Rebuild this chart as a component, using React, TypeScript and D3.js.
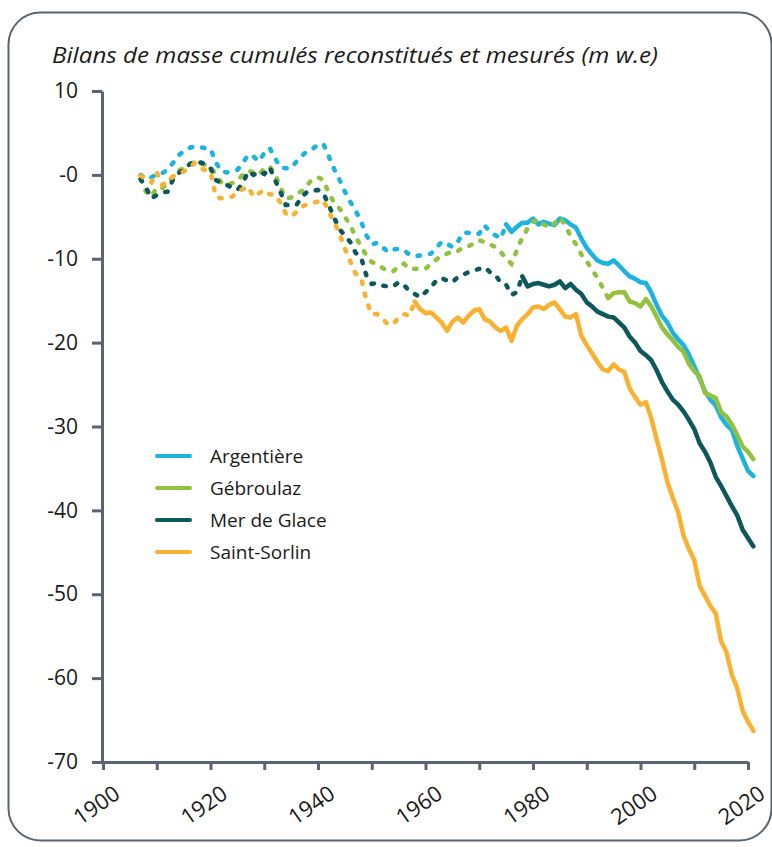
import React, { Component } from 'react';
import * as d3 from 'd3';

// cumulated mass balance (m w.e), one value per year from 1907 to 2021
const firstYear = 1907;
const lastYear = 2021;

const argentiere = [
  0.0, -0.5, -0.3,
  0.1, 0.2, 0.6, 1.4, 2.3, 2.8, 3.2, 3.4, 3.3, 3.2,
  3.1, 1.5, 0.4, 0.3, 0.4, 0.6, 1.4, 2.4, 2.2, 1.6,
  2.6, 3.2, 2.0, 0.9, 0.8, 0.8, 1.6, 2.3, 2.8, 3.1,
  3.6, 3.7, 2.2, 0.7, -0.6, -2.0, -3.2, -4.3, -5.5, -7.2,
  -8.3, -8.1, -8.6, -9.2, -8.9, -8.8, -9.0, -9.5, -9.7, -9.6,
  -9.5, -9.4, -8.7, -8.0, -8.2, -8.6, -8.0, -6.9, -6.9, -7.1,
  -7.0, -6.0, -6.8, -7.2, -7.6, -5.9, -6.8, -6.2, -5.7, -5.7,
  -5.2, -5.9, -5.6, -5.8, -6.0, -5.2, -5.4, -5.9, -6.3, -7.6,
  -8.7, -9.5, -10.2, -10.5, -10.6, -10.2, -10.8, -11.5, -12.1, -12.4,
  -12.8, -12.9, -14.0, -15.5, -16.8, -17.6, -18.8, -19.6, -20.3, -21.4,
  -22.8, -24.3, -25.8, -26.8, -27.5, -28.9, -29.8, -30.4, -32.3, -33.8,
  -35.3, -35.9,
];

const gebroulaz = [
  -0.5, -2.0, -2.6,
  -1.5, -1.6, -1.0, -0.2, 0.5, 0.8, 1.3, 1.5, 1.4, 1.2,
  1.0, 0.0, -0.9, -1.2, -1.0, -0.7, 0.0, 0.5, 0.3, 0.0,
  0.8, 1.0, 0.1, -1.5, -2.8, -2.7, -2.3, -1.9, -1.2, -0.5,
  -0.3, -0.6, -2.2, -3.3, -4.0, -5.0, -6.0, -7.4, -8.5, -9.6,
  -10.4, -10.6, -11.1, -11.4, -11.5, -10.9, -10.6, -11.2, -11.2, -11.2,
  -11.2, -10.6, -10.1, -9.6, -9.4, -9.1, -9.1, -8.6, -8.5, -8.2,
  -7.8, -8.0, -8.3, -8.6, -9.2, -10.0, -10.6, -9.0, -7.5, -6.4,
  -5.6, -5.3, -5.9, -6.3, -5.8, -5.1, -6.0, -7.3, -8.3, -9.5,
  -10.3, -11.3, -12.3, -13.5, -14.7, -14.1, -14.0, -14.0, -15.1, -15.3,
  -15.7, -14.8, -15.7, -16.9, -18.2, -19.0, -19.7, -20.5, -21.1, -22.5,
  -23.4, -24.0, -26.0, -26.3, -26.6, -28.3, -28.8, -29.8, -31.0, -32.4,
  -33.0, -33.9,
];

const merDeGlace = [
  -0.5, -1.5, -2.8,
  -2.4, -2.1, -2.0, -0.6, 0.2, 0.6, 1.2, 1.6, 1.5, 1.3,
  0.8, -0.6, -1.0, -1.2, -1.5, -1.8, -1.0, 0.4, 0.0, 0.4,
  0.1, 0.9, -0.6, -2.0, -3.6, -3.6, -3.6, -2.6, -2.0, -1.9,
  -1.8, -2.2, -3.6, -5.1, -6.5, -7.2, -8.0, -9.3, -9.8, -12.0,
  -13.0, -12.9, -13.2, -13.3, -13.3, -12.8, -13.1, -13.9, -14.2, -14.6,
  -14.0, -13.4, -12.6, -12.3, -12.6, -12.8, -12.2, -11.9, -11.6, -11.4,
  -11.2, -11.0, -11.6, -11.9, -12.9, -13.1, -14.3, -14.0, -12.1, -13.3,
  -13.0, -12.9, -13.1, -13.3, -13.1, -12.7, -13.5, -13.0, -13.7, -14.2,
  -15.2, -15.7, -16.3, -16.6, -16.9, -17.0, -17.6, -18.2, -19.3, -20.0,
  -21.0, -21.5, -22.1, -23.3, -24.7, -25.8, -26.8, -27.4, -28.2, -29.2,
  -30.3, -32.0, -33.0, -34.3, -36.0, -37.1, -38.3, -39.5, -40.6, -42.3,
  -43.3, -44.3,
];

const saintSorlin = [
  -0.1, -0.5, -0.9,
  0.3, -1.2, -0.8, -0.2, 0.2, 0.4, 0.8, 1.4, 0.8, 0.6,
  0.4, -2.6, -2.8, -2.7, -2.6, -2.0, -1.7, -1.4, -2.6, -2.2,
  -1.8, -2.3, -2.4, -3.3, -4.6, -5.0, -4.4, -3.8, -3.5, -3.3,
  -3.2, -3.0, -4.4, -5.6, -7.0, -8.8, -10.3, -11.8, -12.2, -15.0,
  -16.6, -16.6, -17.2, -17.8, -17.8, -17.0, -16.6, -16.8, -15.1, -16.0,
  -16.5, -16.4, -17.0, -17.6, -18.6, -17.5, -17.0, -17.6, -16.8, -16.2,
  -16.0, -17.2, -17.5, -18.2, -18.6, -18.2, -19.8, -18.0, -17.2, -16.6,
  -15.8, -15.7, -16.0, -15.5, -15.2, -16.0, -16.9, -17.0, -16.6, -19.2,
  -20.3, -21.3, -22.3, -23.2, -23.4, -22.6, -23.2, -23.5, -25.5, -26.5,
  -27.4, -27.1, -29.0, -31.5, -33.9, -36.6, -38.5, -40.2, -43.0, -44.6,
  -45.9, -49.0, -50.2, -51.4, -52.3, -55.6, -56.9, -59.6, -61.2, -63.9,
  -65.2, -66.3,
];

// first year of direct measurements (before: reconstructed, dotted)
const measuredFrom = [1975, 1994, 1978, 1958];

const seriesNames = ['Argentière', 'Gébroulaz', 'Mer de Glace', 'Saint-Sorlin'];
const seriesValues = [argentiere, gebroulaz, merDeGlace, saintSorlin];
const seriesColors = ['#1cb4de', '#93c13e', '#0c585a', '#f9b132'];

const xTicks = [1900, 1910, 1920, 1930, 1940, 1950, 1960, 1970, 1980, 1990, 2000, 2010, 2020];
const xLabels = [1900, 1920, 1940, 1960, 1980, 2000, 2020];
const yTicks = [10, 0, -10, -20, -30, -40, -50, -60, -70];

const title = 'Bilans de masse cumulés reconstitués et mesurés (m w.e)';

const FONT = '"Open Sans", "Noto Sans", sans-serif';
const AXIS = '#5b6472';

class GlacierChart extends Component {
  svgRef = React.createRef<SVGSVGElement>();

  componentDidMount() {
    this.drawChart();
  }

  drawChart = () => {
    const svg = d3.select(this.svgRef.current);
    svg.selectAll('*').remove();

    const x = d3.scaleLinear().domain([1900, 2020]).range([103, 748]);
    const y = d3.scaleLinear().domain([-70, 10]).range([762, 91]);

    // frame
    svg.append('rect')
      .attr('x', 8.5).attr('y', 12.5)
      .attr('width', 763).attr('height', 828)
      .attr('rx', 32)
      .attr('fill', '#fff')
      .attr('stroke', AXIS)
      .attr('stroke-width', 2);

    svg.append('text')
      .attr('x', 52).attr('y', 63)
      .attr('font-family', FONT)
      .attr('font-style', 'italic')
      .attr('font-size', 21)
      .attr('textLength', 606)
      .attr('lengthAdjust', 'spacingAndGlyphs')
      .attr('fill', '#1a1a1a')
      .text(title);

    // y axis
    const yAxis = svg.append('g')
      .attr('transform', 'translate(102,0)')
      .call(d3.axisLeft(y).tickValues(yTicks).tickSize(10).tickSizeOuter(0).tickPadding(14)
        .tickFormat((d: any) => (d > 0 ? String(d) : '-' + Math.abs(d))));
    this.styleAxis(yAxis);

    // x axis
    const xAxis = svg.append('g')
      .attr('transform', 'translate(0,762)')
      .call(d3.axisBottom(x).tickValues(xTicks).tickSize(8).tickSizeOuter(0)
        .tickFormat((d: any) => (xLabels.includes(d) ? String(d) : '')));
    this.styleAxis(xAxis);
    xAxis.selectAll('text')
      .attr('text-anchor', 'end')
      .attr('font-size', 22)
      .attr('y', 0).attr('dy', 0)
      .attr('transform', 'translate(18,35) rotate(-35)');

    const line = d3.line<[number, number]>()
      .x(d => x(d[0]))
      .y(d => y(d[1]));

    seriesValues.forEach((vals, i) => {
      const pts: [number, number][] = vals.map((v, k) => [firstYear + k, v]);
      const start = measuredFrom[i];
      const recon = pts.filter(p => p[0] <= start);
      const meas = pts.filter(p => p[0] >= start && p[0] <= lastYear);

      svg.append('path')
        .attr('d', line(recon))
        .attr('fill', 'none')
        .attr('stroke', seriesColors[i])
        .attr('stroke-width', 4.5)
        .attr('stroke-linecap', 'round')
        .attr('stroke-dasharray', '2.5 10');

      svg.append('path')
        .attr('d', line(meas))
        .attr('fill', 'none')
        .attr('stroke', seriesColors[i])
        .attr('stroke-width', 4.5)
        .attr('stroke-linejoin', 'round')
        .attr('stroke-linecap', 'round');
    });

    // legend
    const legend = svg.append('g').attr('transform', 'translate(157,456)');
    seriesNames.forEach((name, i) => {
      const g = legend.append('g').attr('transform', `translate(0,${i * 32})`);
      g.append('line')
        .attr('x1', 0).attr('x2', 33)
        .attr('stroke', seriesColors[i])
        .attr('stroke-width', 4)
        .attr('stroke-linecap', 'round');
      g.append('text')
        .attr('x', 53).attr('y', 7)
        .attr('font-family', FONT)
        .attr('font-size', 19)
        .attr('fill', '#1a1a1a')
        .text(name);
    });
  }

  styleAxis = (g: any) => {
    g.select('.domain').attr('stroke', AXIS).attr('stroke-width', 3);
    g.selectAll('.tick line').attr('stroke', AXIS).attr('stroke-width', 3);
    g.selectAll('.tick text')
      .attr('font-family', FONT)
      .attr('font-size', 21)
      .attr('fill', '#1a1a1a');
  }

  render() {
    return (
      <svg ref={this.svgRef} width={772} height={847}
        style={{ position: 'absolute', left: 0, top: 0, display: 'block' }} />
    );
  }
}

export default function App() {
  return <GlacierChart />;
}
